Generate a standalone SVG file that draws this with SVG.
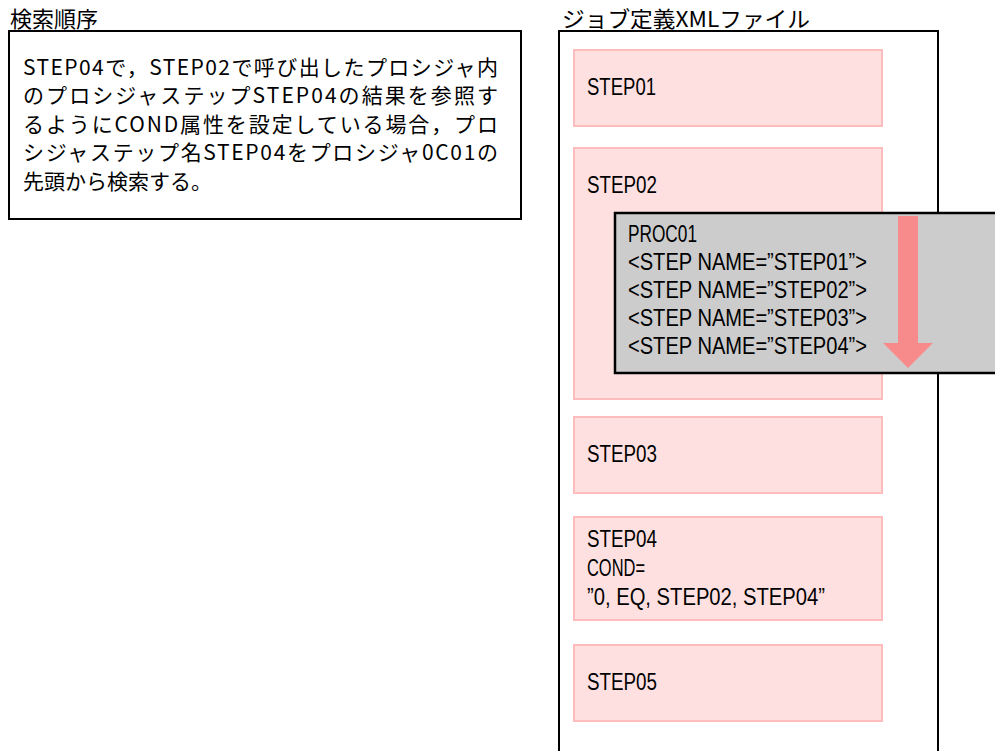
<svg xmlns="http://www.w3.org/2000/svg" width="995" height="751" viewBox="0 0 995 751">
<style>
text{font-family:"Noto Sans CJK JP","Noto Sans",sans-serif;fill:#000;}
.t{font-size:22px;}
.n{font-size:21px;}
.l{font-family:"Liberation Sans","Noto Sans CJK JP",sans-serif;font-size:24px;}
.step{fill:#ffe0e0;stroke:#ffbcbc;stroke-width:2;}
.frame{fill:#fff;stroke:#000;stroke-width:2;}
.proc{fill:#cccccc;stroke:#000;stroke-width:2.5;}
</style>
<rect width="995" height="751" fill="#fff"/>
<g id="note">
<text class="t" x="10" y="27">検索順序</text>
<rect class="frame" x="9" y="31" width="512" height="188"/>
<text class="n" x="23" y="75" textLength="475" lengthAdjust="spacing">STEP04で，STEP02で呼び出したプロシジャ内</text>
<text class="n" x="23" y="103" textLength="475" lengthAdjust="spacing">のプロシジャステップSTEP04の結果を参照す</text>
<text class="n" x="23" y="132" textLength="475" lengthAdjust="spacing">るようにCOND属性を設定している場合，プロ</text>
<text class="n" x="23" y="160" textLength="475" lengthAdjust="spacing">シジャステップ名STEP04をプロシジャ0C01の</text>
<text class="n" x="23" y="189">先頭から検索する。</text>
</g>
<g id="xmlfile">
<text class="t" x="562" y="27" textLength="248" lengthAdjust="spacingAndGlyphs">ジョブ定義XMLファイル</text>
<rect class="frame" x="559" y="31" width="379" height="740"/>
</g>
<g id="step01">
<rect class="step" x="574" y="50" width="308" height="76"/>
<text class="l" x="587" y="95" textLength="69" lengthAdjust="spacingAndGlyphs">STEP01</text>
</g>
<g id="step02">
<rect class="step" x="574" y="148" width="308" height="251"/>
<text class="l" x="587" y="193" textLength="70" lengthAdjust="spacingAndGlyphs">STEP02</text>
</g>
<g id="proc01">
<rect class="proc" x="615" y="213" width="400" height="160"/>
<text class="l" x="628" y="242" textLength="69" lengthAdjust="spacingAndGlyphs">PROC01</text>
<text class="l" x="628" y="270" textLength="239" lengthAdjust="spacingAndGlyphs">&lt;STEP NAME=”STEP01”&gt;</text>
<text class="l" x="628" y="298" textLength="239" lengthAdjust="spacingAndGlyphs">&lt;STEP NAME=”STEP02”&gt;</text>
<text class="l" x="628" y="326" textLength="239" lengthAdjust="spacingAndGlyphs">&lt;STEP NAME=”STEP03”&gt;</text>
<text class="l" x="628" y="354" textLength="239" lengthAdjust="spacingAndGlyphs">&lt;STEP NAME=”STEP04”&gt;</text>
</g>
<g id="connectors">
<polygon points="898,216 918,216 918,343 933,343 908,368 883,343 898,343" fill="#f78b8b"/>
</g>
<g id="step03">
<rect class="step" x="574" y="417" width="308" height="76"/>
<text class="l" x="587" y="462" textLength="70" lengthAdjust="spacingAndGlyphs">STEP03</text>
</g>
<g id="step04">
<rect class="step" x="574" y="517" width="308" height="103"/>
<text class="l" x="587" y="547" textLength="70" lengthAdjust="spacingAndGlyphs">STEP04</text>
<text class="l" x="587" y="576" textLength="58" lengthAdjust="spacingAndGlyphs">COND=</text>
<text class="l" x="587" y="605" textLength="238" lengthAdjust="spacingAndGlyphs">”0, EQ, STEP02, STEP04”</text>
</g>
<g id="step05">
<rect class="step" x="574" y="645" width="308" height="76"/>
<text class="l" x="587" y="690" textLength="70" lengthAdjust="spacingAndGlyphs">STEP05</text>
</g>
</svg>
